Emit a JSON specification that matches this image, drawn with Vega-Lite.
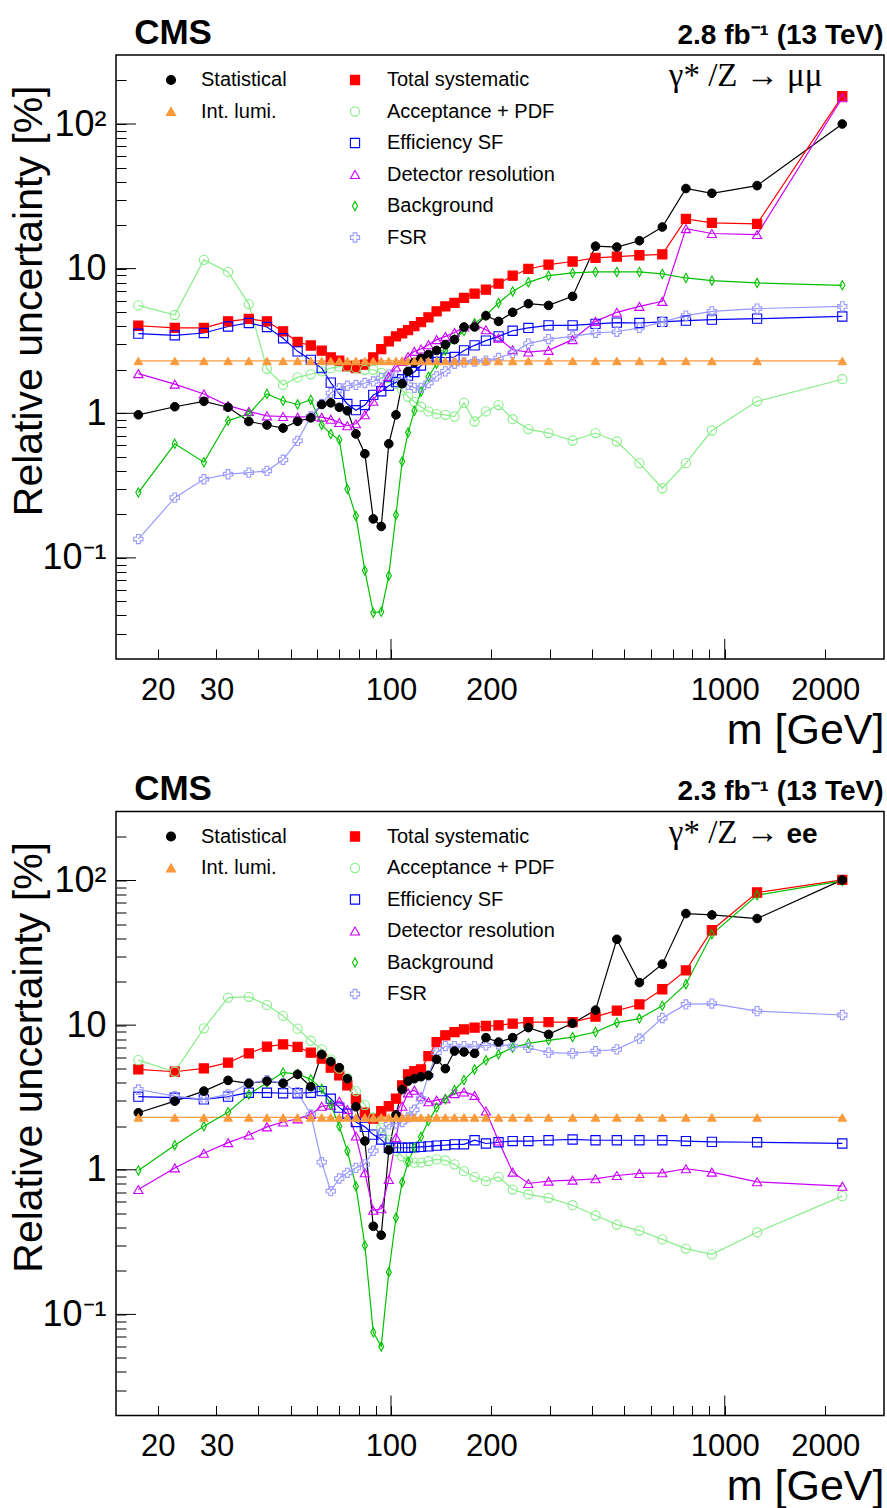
{
  "$schema": "https://vega.github.io/schema/vega-lite/v6.json",
  "background": "white",
  "padding": {"left": 7, "top": 14, "right": 4, "bottom": 0},
  "spacing": 152.5,
  "bounds": "flush",
  "config": {
    "view": {"stroke": "black", "strokeWidth": 1.5},
    "font": "Liberation Sans",
    "axis": {"domain": false, "grid": false, "tickColor": "black", "tickWidth": 1, "labelColor": "black", "titleColor": "black", "labelFont": "Liberation Sans", "titleFont": "Liberation Sans", "titleFontWeight": "normal"},
    "legend": {"labelLimit": 400}
  },
  "datasets": {
    "mumu": [
      {"m":17.5,"stat":0.976,"lumi":2.3,"syst":4.03,"acc":5.57,"eff":3.55,"res":1.88,"bkg":0.283,"fsr":0.135},
      {"m":22.5,"stat":1.11,"lumi":2.3,"syst":3.89,"acc":4.78,"eff":3.46,"res":1.59,"bkg":0.615,"fsr":0.261},
      {"m":27.5,"stat":1.21,"lumi":2.3,"syst":3.89,"acc":11.5,"eff":3.59,"res":1.36,"bkg":0.459,"fsr":0.350},
      {"m":32.5,"stat":1.10,"lumi":2.3,"syst":4.32,"acc":9.49,"eff":3.98,"res":1.13,"bkg":0.887,"fsr":0.379},
      {"m":37.5,"stat":0.877,"lumi":2.3,"syst":4.49,"acc":5.69,"eff":4.21,"res":1.03,"bkg":0.99,"fsr":0.389},
      {"m":42.5,"stat":0.83,"lumi":2.3,"syst":4.32,"acc":2.03,"eff":3.95,"res":0.96,"bkg":1.36,"fsr":0.40},
      {"m":47.5,"stat":0.79,"lumi":2.3,"syst":3.68,"acc":1.57,"eff":3.30,"res":0.95,"bkg":1.22,"fsr":0.477},
      {"m":52.5,"stat":0.88,"lumi":2.3,"syst":3.11,"acc":1.77,"eff":2.68,"res":0.94,"bkg":1.15,"fsr":0.645},
      {"m":57.5,"stat":0.93,"lumi":2.3,"syst":2.94,"acc":1.86,"eff":2.34,"res":0.95,"bkg":1.24,"fsr":0.95},
      {"m":62,"stat":1.15,"lumi":2.3,"syst":2.71,"acc":1.95,"eff":2.05,"res":0.94,"bkg":0.83,"fsr":1.16},
      {"m":66,"stat":1.18,"lumi":2.3,"syst":2.43,"acc":2.05,"eff":1.63,"res":0.91,"bkg":0.72,"fsr":1.38},
      {"m":70,"stat":1.10,"lumi":2.3,"syst":2.31,"acc":2.1,"eff":1.36,"res":0.864,"bkg":0.656,"fsr":1.49},
      {"m":74,"stat":1.04,"lumi":2.3,"syst":2.11,"acc":2.1,"eff":1.16,"res":0.82,"bkg":0.299,"fsr":1.55},
      {"m":78.5,"stat":0.72,"lumi":2.3,"syst":2.05,"acc":2.05,"eff":1.05,"res":0.846,"bkg":0.195,"fsr":1.57},
      {"m":83.5,"stat":0.525,"lumi":2.3,"syst":2.17,"acc":2.0,"eff":1.14,"res":0.976,"bkg":0.0817,"fsr":1.62},
      {"m":88.5,"stat":0.186,"lumi":2.3,"syst":2.43,"acc":2.0,"eff":1.34,"res":1.21,"bkg":0.0418,"fsr":1.66},
      {"m":93.5,"stat":0.165,"lumi":2.3,"syst":2.78,"acc":1.9,"eff":1.42,"res":1.53,"bkg":0.0424,"fsr":1.75},
      {"m":98.5,"stat":0.615,"lumi":2.3,"syst":3.14,"acc":1.75,"eff":1.55,"res":1.80,"bkg":0.0754,"fsr":1.85},
      {"m":103.5,"stat":0.976,"lumi":2.3,"syst":3.40,"acc":1.6,"eff":1.64,"res":2.09,"bkg":0.198,"fsr":1.8},
      {"m":108,"stat":1.6,"lumi":2.3,"syst":3.57,"acc":1.45,"eff":1.72,"res":2.28,"bkg":0.464,"fsr":1.7},
      {"m":112.5,"stat":1.95,"lumi":2.3,"syst":3.76,"acc":1.3,"eff":1.82,"res":2.47,"bkg":0.735,"fsr":1.57},
      {"m":117.5,"stat":2.25,"lumi":2.3,"syst":4.0,"acc":1.2,"eff":1.93,"res":2.68,"bkg":1.04,"fsr":1.5},
      {"m":123,"stat":2.4,"lumi":2.3,"syst":4.27,"acc":1.11,"eff":2.14,"res":2.78,"bkg":1.41,"fsr":1.5},
      {"m":129.5,"stat":2.55,"lumi":2.3,"syst":4.6,"acc":1.03,"eff":2.38,"res":2.98,"bkg":1.79,"fsr":1.62},
      {"m":137,"stat":2.72,"lumi":2.3,"syst":5.07,"acc":0.99,"eff":2.45,"res":3.23,"bkg":2.20,"fsr":1.80},
      {"m":145.5,"stat":2.98,"lumi":2.3,"syst":5.48,"acc":0.976,"eff":2.42,"res":3.40,"bkg":2.72,"fsr":1.95},
      {"m":155,"stat":3.23,"lumi":2.3,"syst":5.79,"acc":0.95,"eff":2.45,"res":3.62,"bkg":3.26,"fsr":2.20},
      {"m":165.5,"stat":3.95,"lumi":2.3,"syst":6.27,"acc":1.18,"eff":2.72,"res":3.95,"bkg":3.7,"fsr":2.25},
      {"m":178,"stat":3.95,"lumi":2.3,"syst":6.71,"acc":0.877,"eff":2.95,"res":4.10,"bkg":4.2,"fsr":2.28},
      {"m":192.5,"stat":4.73,"lumi":2.3,"syst":7.16,"acc":1.03,"eff":3.18,"res":3.78,"bkg":4.75,"fsr":2.31},
      {"m":210,"stat":4.32,"lumi":2.3,"syst":7.88,"acc":1.14,"eff":3.40,"res":3.31,"bkg":5.79,"fsr":2.41},
      {"m":231.5,"stat":4.99,"lumi":2.3,"syst":8.94,"acc":0.91,"eff":3.72,"res":2.75,"bkg":6.96,"fsr":2.61},
      {"m":258,"stat":5.72,"lumi":2.3,"syst":9.95,"acc":0.777,"eff":3.89,"res":2.65,"bkg":8.04,"fsr":3.03},
      {"m":296.5,"stat":5.57,"lumi":2.3,"syst":10.66,"acc":0.73,"eff":4.05,"res":2.72,"bkg":8.94,"fsr":3.26},
      {"m":350,"stat":6.43,"lumi":2.3,"syst":11.2,"acc":0.648,"eff":4.05,"res":3.23,"bkg":9.34,"fsr":3.40},
      {"m":410,"stat":14.3,"lumi":2.3,"syst":11.86,"acc":0.73,"eff":4.15,"res":4.32,"bkg":9.49,"fsr":3.6},
      {"m":475,"stat":14.1,"lumi":2.3,"syst":12.1,"acc":0.638,"eff":4.23,"res":4.99,"bkg":9.49,"fsr":3.66},
      {"m":555,"stat":15.6,"lumi":2.3,"syst":12.37,"acc":0.452,"eff":4.21,"res":5.48,"bkg":9.49,"fsr":3.89},
      {"m":650,"stat":19.4,"lumi":2.3,"syst":12.56,"acc":0.303,"eff":4.28,"res":5.94,"bkg":9.19,"fsr":4.28},
      {"m":765,"stat":35.8,"lumi":2.3,"syst":22.1,"acc":0.452,"eff":4.37,"res":18.9,"bkg":8.62,"fsr":4.73},
      {"m":915,"stat":33.2,"lumi":2.3,"syst":20.7,"acc":0.76,"eff":4.44,"res":17.5,"bkg":8.26,"fsr":5.07},
      {"m":1250,"stat":37.5,"lumi":2.3,"syst":20.4,"acc":1.21,"eff":4.51,"res":17.2,"bkg":7.96,"fsr":5.29},
      {"m":2250,"stat":100,"lumi":2.3,"syst":156,"acc":1.72,"eff":4.67,"res":152,"bkg":7.67,"fsr":5.48}
    ],
    "ee": [
      {"m":17.5,"stat":2.48,"lumi":2.3,"syst":4.94,"acc":5.73,"eff":3.20,"res":0.73,"bkg":0.99,"fsr":3.59},
      {"m":22.5,"stat":2.98,"lumi":2.3,"syst":4.76,"acc":4.76,"eff":3.15,"res":1.03,"bkg":1.48,"fsr":3.23},
      {"m":27.5,"stat":3.50,"lumi":2.3,"syst":5.02,"acc":9.50,"eff":3.07,"res":1.30,"bkg":2.00,"fsr":3.07},
      {"m":32.5,"stat":4.15,"lumi":2.3,"syst":5.50,"acc":15.5,"eff":3.20,"res":1.54,"bkg":2.50,"fsr":3.32},
      {"m":37.5,"stat":3.96,"lumi":2.3,"syst":6.38,"acc":15.7,"eff":3.41,"res":1.74,"bkg":3.32,"fsr":3.96},
      {"m":42.5,"stat":4.10,"lumi":2.3,"syst":7.10,"acc":13.8,"eff":3.41,"res":1.98,"bkg":4.0,"fsr":4.17},
      {"m":47.5,"stat":3.96,"lumi":2.3,"syst":7.36,"acc":11.6,"eff":3.38,"res":2.14,"bkg":4.7,"fsr":3.96},
      {"m":52.5,"stat":4.57,"lumi":2.3,"syst":7.08,"acc":9.46,"eff":3.38,"res":2.25,"bkg":4.6,"fsr":3.44},
      {"m":57.5,"stat":3.75,"lumi":2.3,"syst":6.45,"acc":7.8,"eff":3.41,"res":2.41,"bkg":4.22,"fsr":2.41},
      {"m":62,"stat":6.28,"lumi":2.3,"syst":5.87,"acc":6.8,"eff":3.50,"res":2.75,"bkg":3.63,"fsr":1.13},
      {"m":66,"stat":5.6,"lumi":2.3,"syst":5.08,"acc":5.8,"eff":3.10,"res":2.8,"bkg":2.83,"fsr":0.711},
      {"m":70,"stat":5.08,"lumi":2.3,"syst":4.49,"acc":5.0,"eff":2.69,"res":2.98,"bkg":2.00,"fsr":0.87},
      {"m":74,"stat":4.26,"lumi":2.3,"syst":3.83,"acc":4.3,"eff":2.44,"res":2.61,"bkg":1.35,"fsr":0.953},
      {"m":78.5,"stat":2.73,"lumi":2.3,"syst":3.07,"acc":3.5,"eff":2.14,"res":1.71,"bkg":0.77,"fsr":1.03},
      {"m":83.5,"stat":1.58,"lumi":2.3,"syst":2.48,"acc":2.8,"eff":1.98,"res":0.953,"bkg":0.30,"fsr":1.09},
      {"m":88.5,"stat":0.407,"lumi":2.3,"syst":2.26,"acc":2.3,"eff":1.75,"res":0.525,"bkg":0.0752,"fsr":1.35},
      {"m":93.5,"stat":0.353,"lumi":2.3,"syst":2.54,"acc":1.95,"eff":1.62,"res":0.537,"bkg":0.0601,"fsr":1.80},
      {"m":98.5,"stat":1.37,"lumi":2.3,"syst":2.75,"acc":1.6,"eff":1.42,"res":0.857,"bkg":0.196,"fsr":2.06},
      {"m":103.5,"stat":2.4,"lumi":2.3,"syst":3.10,"acc":1.35,"eff":1.42,"res":1.67,"bkg":0.466,"fsr":2.09},
      {"m":108,"stat":3.59,"lumi":2.3,"syst":3.83,"acc":1.24,"eff":1.42,"res":2.75,"bkg":0.82,"fsr":2.14},
      {"m":112.5,"stat":4.1,"lumi":2.3,"syst":4.57,"acc":1.15,"eff":1.42,"res":3.4,"bkg":1.13,"fsr":2.3},
      {"m":117.5,"stat":4.26,"lumi":2.3,"syst":4.81,"acc":1.12,"eff":1.43,"res":3.55,"bkg":1.42,"fsr":2.6},
      {"m":123,"stat":4.4,"lumi":2.3,"syst":4.94,"acc":1.12,"eff":1.44,"res":3.2,"bkg":1.69,"fsr":3.1},
      {"m":129.5,"stat":4.49,"lumi":2.3,"syst":6.11,"acc":1.15,"eff":1.45,"res":2.95,"bkg":2.17,"fsr":4.5},
      {"m":137,"stat":5.80,"lumi":2.3,"syst":7.64,"acc":1.18,"eff":1.47,"res":3.03,"bkg":2.69,"fsr":6.45},
      {"m":145.5,"stat":5.0,"lumi":2.3,"syst":8.5,"acc":1.16,"eff":1.48,"res":3.10,"bkg":3.07,"fsr":7.17},
      {"m":155,"stat":6.62,"lumi":2.3,"syst":8.96,"acc":1.09,"eff":1.50,"res":3.36,"bkg":3.56,"fsr":7.17},
      {"m":165.5,"stat":6.52,"lumi":2.3,"syst":9.35,"acc":0.978,"eff":1.50,"res":3.45,"bkg":4.17,"fsr":7.17},
      {"m":178,"stat":6.38,"lumi":2.3,"syst":9.61,"acc":0.894,"eff":1.60,"res":3.27,"bkg":4.94,"fsr":7.17},
      {"m":192.5,"stat":8.19,"lumi":2.3,"syst":9.86,"acc":0.834,"eff":1.52,"res":2.55,"bkg":5.71,"fsr":7.25},
      {"m":210,"stat":7.64,"lumi":2.3,"syst":9.97,"acc":0.894,"eff":1.55,"res":1.58,"bkg":6.28,"fsr":7.36},
      {"m":231.5,"stat":8.19,"lumi":2.3,"syst":10.24,"acc":0.73,"eff":1.58,"res":0.963,"bkg":6.99,"fsr":7.17},
      {"m":258,"stat":9.61,"lumi":2.3,"syst":10.5,"acc":0.675,"eff":1.58,"res":0.804,"bkg":7.48,"fsr":6.98},
      {"m":296.5,"stat":8.63,"lumi":2.3,"syst":10.5,"acc":0.64,"eff":1.60,"res":0.834,"bkg":7.85,"fsr":6.45},
      {"m":350,"stat":10.3,"lumi":2.3,"syst":10.5,"acc":0.569,"eff":1.62,"res":0.848,"bkg":8.27,"fsr":6.38},
      {"m":410,"stat":12.7,"lumi":2.3,"syst":11.45,"acc":0.483,"eff":1.60,"res":0.866,"bkg":8.96,"fsr":6.6},
      {"m":475,"stat":39.2,"lumi":2.3,"syst":12.6,"acc":0.418,"eff":1.60,"res":0.913,"bkg":10.4,"fsr":6.8},
      {"m":555,"stat":19.7,"lumi":2.3,"syst":13.9,"acc":0.38,"eff":1.60,"res":0.943,"bkg":11.1,"fsr":8.06},
      {"m":650,"stat":26.4,"lumi":2.3,"syst":17.7,"acc":0.33,"eff":1.60,"res":0.953,"bkg":13.6,"fsr":11.2},
      {"m":765,"stat":59.1,"lumi":2.3,"syst":23.9,"acc":0.285,"eff":1.58,"res":1.016,"bkg":19.2,"fsr":13.9},
      {"m":915,"stat":57.8,"lumi":2.3,"syst":45.3,"acc":0.26,"eff":1.56,"res":0.963,"bkg":42.5,"fsr":14.1},
      {"m":1250,"stat":54.6,"lumi":2.3,"syst":82.6,"acc":0.37,"eff":1.55,"res":0.826,"bkg":79.1,"fsr":12.5},
      {"m":2250,"stat":101,"lumi":2.3,"syst":101,"acc":0.657,"eff":1.52,"res":0.77,"bkg":99.3,"fsr":11.75}
    ]
  },
  "vconcat": [
    {
      "width": 768, "height": 604,
      "layer": [
        {
          "data": {"name": "mumu"},
          "transform": [{"fold": ["stat","lumi","syst","acc","eff","res","bkg","fsr"], "as": ["s","v"]}],
          "mark": {"type": "line", "strokeWidth": 1.2},
          "encoding": {
            "x": {"field": "m", "type": "quantitative", "scale": {"type": "log", "domain": [15, 3000], "nice": false},
              "axis": {"values": [20,30,40,50,60,70,80,90,100,200,300,400,500,600,700,800,900,1000,2000], "format": "d",
                "labelExpr": "indexof([20,30,100,200,1000,2000], datum.value) >= 0 ? datum.label : ''",
                "labelFontSize": 31, "tickSize": -10, "labelPadding": 26, "labelBaseline": "top", "labelOverlap": false, "labelFlush": false,
                "title": "m [GeV]", "titleFontSize": 43, "titleAlign": "right", "titleX": 768, "titleY": 84, "titleBaseline": "alphabetic"}},
            "y": {"field": "v", "type": "quantitative", "scale": {"type": "log", "domain": [0.02, 300], "nice": false},
              "axis": {"values": [0.03,0.04,0.05,0.06,0.07,0.08,0.09,0.1,0.2,0.3,0.4,0.5,0.6,0.7,0.8,0.9,1,2,3,4,5,6,7,8,9,10,20,30,40,50,60,70,80,90,100,200],
                "labelExpr": "datum.value == 100 ? '10²' : datum.value == 10 ? '10' : datum.value == 1 ? '1' : datum.value == 0.1 ? '10⁻¹' : ''",
                "labelFontSize": 36, "tickSize": -10, "labelPadding": 20, "labelBaseline": "middle", "labelOverlap": false, "labelFlush": false,
                "title": "Relative uncertainty [%]", "titleFontSize": 41, "titleAngle": 270, "titleAlign": "right", "titleBaseline": "middle", "titleX": -87, "titleY": 30}},
            "color": {"field": "s", "type": "nominal", "scale": {"domain": ["stat","lumi","syst","acc","eff","res","bkg","fsr"], "range": ["#000000","#fa9a3c","#ff0000","#88ee88","#0000ff","#cc00ff","#00c000","#9999ff"]}, "legend": null}
          }
        },
        {
          "data": {"name": "mumu"},
          "transform": [{"fold": ["stat","lumi","syst","acc","eff","res","bkg","fsr"], "as": ["s","v"]}, {"filter": {"field": "s", "oneOf": ["syst","acc","eff","res","bkg","fsr"]}}],
          "mark": {"type": "point", "opacity": 1, "size": 85, "strokeWidth": 1.1},
          "encoding": {
            "x": {"field": "m", "type": "quantitative"},
            "y": {"field": "v", "type": "quantitative"},
            "shape": {"field": "s", "type": "nominal", "scale": {"domain": ["syst","acc","eff","res","bkg","fsr"], "range": ["square","circle","square","triangle-up","M0,-1L0.55,0L0,1L-0.55,0Z","cross"]},
              "legend": {"title": null, "orient": "none", "legendX": 229, "legendY": 15, "padding": 0, "labelFontSize": 20, "labelFont": "Liberation Sans", "labelColor": "black", "labelLimit": 400, "symbolSize": 85, "symbolStrokeWidth": 1.1, "labelOffset": 22, "rowPadding": 11.5, "labelExpr": "datum.label == 'syst' ? 'Total systematic' : datum.label == 'acc' ? 'Acceptance + PDF' : datum.label == 'eff' ? 'Efficiency SF' : datum.label == 'res' ? 'Detector resolution' : datum.label == 'bkg' ? 'Background' : 'FSR'"}},
            "stroke": {"field": "s", "type": "nominal", "scale": {"domain": ["syst","acc","eff","res","bkg","fsr"], "range": ["#ff0000","#88ee88","#0000ff","#cc00ff","#00c000","#9999ff"]},
              "legend": {"title": null, "orient": "none", "legendX": 229, "legendY": 15, "padding": 0, "labelFontSize": 20, "labelFont": "Liberation Sans", "labelColor": "black", "labelLimit": 400, "symbolSize": 85, "symbolStrokeWidth": 1.1, "labelOffset": 22, "rowPadding": 11.5, "labelExpr": "datum.label == 'syst' ? 'Total systematic' : datum.label == 'acc' ? 'Acceptance + PDF' : datum.label == 'eff' ? 'Efficiency SF' : datum.label == 'res' ? 'Detector resolution' : datum.label == 'bkg' ? 'Background' : 'FSR'"}},
            "fill": {"field": "s", "type": "nominal", "scale": {"domain": ["syst","acc","eff","res","bkg","fsr"], "range": ["#ff0000","transparent","transparent","transparent","transparent","transparent"]},
              "legend": {"title": null, "orient": "none", "legendX": 229, "legendY": 15, "padding": 0, "labelFontSize": 20, "labelFont": "Liberation Sans", "labelColor": "black", "labelLimit": 400, "symbolSize": 85, "symbolStrokeWidth": 1.1, "labelOffset": 22, "rowPadding": 11.5, "labelExpr": "datum.label == 'syst' ? 'Total systematic' : datum.label == 'acc' ? 'Acceptance + PDF' : datum.label == 'eff' ? 'Efficiency SF' : datum.label == 'res' ? 'Detector resolution' : datum.label == 'bkg' ? 'Background' : 'FSR'"}}
          }
        },
        {
          "data": {"name": "mumu"},
          "transform": [{"fold": ["stat","lumi","syst","acc","eff","res","bkg","fsr"], "as": ["s","v"]}, {"filter": {"field": "s", "oneOf": ["stat","lumi"]}}],
          "mark": {"type": "point", "opacity": 1, "size": 75, "strokeWidth": 1},
          "encoding": {
            "x": {"field": "m", "type": "quantitative"},
            "y": {"field": "v", "type": "quantitative"},
            "shape": {"field": "s", "type": "nominal", "scale": {"domain": ["stat","lumi"], "range": ["circle","triangle-up"]},
              "legend": {"title": null, "orient": "none", "legendX": 45, "legendY": 15, "padding": 0, "labelFontSize": 20, "labelFont": "Liberation Sans", "labelColor": "black", "labelLimit": 400, "symbolSize": 75, "labelOffset": 20, "rowPadding": 11.5, "labelExpr": "datum.label == 'stat' ? 'Statistical' : 'Int. lumi.'"}},
            "stroke": {"field": "s", "type": "nominal", "scale": {"domain": ["stat","lumi"], "range": ["#000000","#fa9a3c"]},
              "legend": {"title": null, "orient": "none", "legendX": 45, "legendY": 15, "padding": 0, "labelFontSize": 20, "labelFont": "Liberation Sans", "labelColor": "black", "labelLimit": 400, "symbolSize": 75, "labelOffset": 20, "rowPadding": 11.5, "labelExpr": "datum.label == 'stat' ? 'Statistical' : 'Int. lumi.'"}},
            "fill": {"field": "s", "type": "nominal", "scale": {"domain": ["stat","lumi"], "range": ["#000000","#fa9a3c"]},
              "legend": {"title": null, "orient": "none", "legendX": 45, "legendY": 15, "padding": 0, "labelFontSize": 20, "labelFont": "Liberation Sans", "labelColor": "black", "labelLimit": 400, "symbolSize": 75, "labelOffset": 20, "rowPadding": 11.5, "labelExpr": "datum.label == 'stat' ? 'Statistical' : 'Int. lumi.'"}}
          }
        },
        {
          "data": {"values": [{"m": 100}, {"m": 1000}]},
          "mark": {"type": "rule", "color": "black", "strokeWidth": 1},
          "encoding": {"x": {"field": "m", "type": "quantitative"}, "y": {"datum": 0.02}, "y2": {"datum": 0.0275}}
        },
        {
          "data": {"values": [{"v": 0.1}, {"v": 1}, {"v": 10}, {"v": 100}]},
          "mark": {"type": "rule", "color": "black", "strokeWidth": 1},
          "encoding": {"y": {"field": "v", "type": "quantitative"}, "x": {"datum": 15}, "x2": {"datum": 17.22}}
        },
        {
          "data": {"values": [{}]},
          "mark": {"type": "text", "text": "CMS", "font": "Liberation Sans", "fontSize": 35, "fontWeight": "bold", "align": "left", "baseline": "alphabetic", "color": "black"},
          "encoding": {"x": {"datum": 17.0}, "y": {"datum": 360}}
        },
        {
          "data": {"values": [{}]},
          "mark": {"type": "text", "text": "2.8 fb⁻¹ (13 TeV)", "font": "Liberation Sans", "fontSize": 28, "fontWeight": "bold", "align": "right", "baseline": "alphabetic", "color": "black"},
          "encoding": {"x": {"datum": 2990}, "y": {"datum": 360}}
        },
        {
          "data": {"values": [{}]},
          "mark": {"type": "text", "text": "γ* /Z → μμ", "font": "Liberation Serif", "fontSize": 33, "align": "left", "baseline": "alphabetic", "color": "black"},
          "encoding": {"x": {"datum": 680}, "y": {"datum": 183}}
        }
      ],
      "resolve": {"scale": {"shape": "independent", "stroke": "independent", "fill": "independent"}}
    },
    {
      "width": 768, "height": 604,
      "layer": [
        {
          "data": {"name": "ee"},
          "transform": [{"fold": ["stat","lumi","syst","acc","eff","res","bkg","fsr"], "as": ["s","v"]}],
          "mark": {"type": "line", "strokeWidth": 1.2},
          "encoding": {
            "x": {"field": "m", "type": "quantitative", "scale": {"type": "log", "domain": [15, 3000], "nice": false},
              "axis": {"values": [20,30,40,50,60,70,80,90,100,200,300,400,500,600,700,800,900,1000,2000], "format": "d",
                "labelExpr": "indexof([20,30,100,200,1000,2000], datum.value) >= 0 ? datum.label : ''",
                "labelFontSize": 31, "tickSize": -10, "labelPadding": 26, "labelBaseline": "top", "labelOverlap": false, "labelFlush": false,
                "title": "m [GeV]", "titleFontSize": 43, "titleAlign": "right", "titleX": 768, "titleY": 84, "titleBaseline": "alphabetic"}},
            "y": {"field": "v", "type": "quantitative", "scale": {"type": "log", "domain": [0.02, 300], "nice": false},
              "axis": {"values": [0.03,0.04,0.05,0.06,0.07,0.08,0.09,0.1,0.2,0.3,0.4,0.5,0.6,0.7,0.8,0.9,1,2,3,4,5,6,7,8,9,10,20,30,40,50,60,70,80,90,100,200],
                "labelExpr": "datum.value == 100 ? '10²' : datum.value == 10 ? '10' : datum.value == 1 ? '1' : datum.value == 0.1 ? '10⁻¹' : ''",
                "labelFontSize": 36, "tickSize": -10, "labelPadding": 20, "labelBaseline": "middle", "labelOverlap": false, "labelFlush": false,
                "title": "Relative uncertainty [%]", "titleFontSize": 41, "titleAngle": 270, "titleAlign": "right", "titleBaseline": "middle", "titleX": -87, "titleY": 30}},
            "color": {"field": "s", "type": "nominal", "scale": {"domain": ["stat","lumi","syst","acc","eff","res","bkg","fsr"], "range": ["#000000","#fa9a3c","#ff0000","#88ee88","#0000ff","#cc00ff","#00c000","#9999ff"]}, "legend": null}
          }
        },
        {
          "data": {"name": "ee"},
          "transform": [{"fold": ["stat","lumi","syst","acc","eff","res","bkg","fsr"], "as": ["s","v"]}, {"filter": {"field": "s", "oneOf": ["syst","acc","eff","res","bkg","fsr"]}}],
          "mark": {"type": "point", "opacity": 1, "size": 85, "strokeWidth": 1.1},
          "encoding": {
            "x": {"field": "m", "type": "quantitative"},
            "y": {"field": "v", "type": "quantitative"},
            "shape": {"field": "s", "type": "nominal", "scale": {"domain": ["syst","acc","eff","res","bkg","fsr"], "range": ["square","circle","square","triangle-up","M0,-1L0.55,0L0,1L-0.55,0Z","cross"]},
              "legend": {"title": null, "orient": "none", "legendX": 229, "legendY": 15, "padding": 0, "labelFontSize": 20, "labelFont": "Liberation Sans", "labelColor": "black", "labelLimit": 400, "symbolSize": 85, "symbolStrokeWidth": 1.1, "labelOffset": 22, "rowPadding": 11.5, "labelExpr": "datum.label == 'syst' ? 'Total systematic' : datum.label == 'acc' ? 'Acceptance + PDF' : datum.label == 'eff' ? 'Efficiency SF' : datum.label == 'res' ? 'Detector resolution' : datum.label == 'bkg' ? 'Background' : 'FSR'"}},
            "stroke": {"field": "s", "type": "nominal", "scale": {"domain": ["syst","acc","eff","res","bkg","fsr"], "range": ["#ff0000","#88ee88","#0000ff","#cc00ff","#00c000","#9999ff"]},
              "legend": {"title": null, "orient": "none", "legendX": 229, "legendY": 15, "padding": 0, "labelFontSize": 20, "labelFont": "Liberation Sans", "labelColor": "black", "labelLimit": 400, "symbolSize": 85, "symbolStrokeWidth": 1.1, "labelOffset": 22, "rowPadding": 11.5, "labelExpr": "datum.label == 'syst' ? 'Total systematic' : datum.label == 'acc' ? 'Acceptance + PDF' : datum.label == 'eff' ? 'Efficiency SF' : datum.label == 'res' ? 'Detector resolution' : datum.label == 'bkg' ? 'Background' : 'FSR'"}},
            "fill": {"field": "s", "type": "nominal", "scale": {"domain": ["syst","acc","eff","res","bkg","fsr"], "range": ["#ff0000","transparent","transparent","transparent","transparent","transparent"]},
              "legend": {"title": null, "orient": "none", "legendX": 229, "legendY": 15, "padding": 0, "labelFontSize": 20, "labelFont": "Liberation Sans", "labelColor": "black", "labelLimit": 400, "symbolSize": 85, "symbolStrokeWidth": 1.1, "labelOffset": 22, "rowPadding": 11.5, "labelExpr": "datum.label == 'syst' ? 'Total systematic' : datum.label == 'acc' ? 'Acceptance + PDF' : datum.label == 'eff' ? 'Efficiency SF' : datum.label == 'res' ? 'Detector resolution' : datum.label == 'bkg' ? 'Background' : 'FSR'"}}
          }
        },
        {
          "data": {"name": "ee"},
          "transform": [{"fold": ["stat","lumi","syst","acc","eff","res","bkg","fsr"], "as": ["s","v"]}, {"filter": {"field": "s", "oneOf": ["stat","lumi"]}}],
          "mark": {"type": "point", "opacity": 1, "size": 75, "strokeWidth": 1},
          "encoding": {
            "x": {"field": "m", "type": "quantitative"},
            "y": {"field": "v", "type": "quantitative"},
            "shape": {"field": "s", "type": "nominal", "scale": {"domain": ["stat","lumi"], "range": ["circle","triangle-up"]},
              "legend": {"title": null, "orient": "none", "legendX": 45, "legendY": 15, "padding": 0, "labelFontSize": 20, "labelFont": "Liberation Sans", "labelColor": "black", "labelLimit": 400, "symbolSize": 75, "labelOffset": 20, "rowPadding": 11.5, "labelExpr": "datum.label == 'stat' ? 'Statistical' : 'Int. lumi.'"}},
            "stroke": {"field": "s", "type": "nominal", "scale": {"domain": ["stat","lumi"], "range": ["#000000","#fa9a3c"]},
              "legend": {"title": null, "orient": "none", "legendX": 45, "legendY": 15, "padding": 0, "labelFontSize": 20, "labelFont": "Liberation Sans", "labelColor": "black", "labelLimit": 400, "symbolSize": 75, "labelOffset": 20, "rowPadding": 11.5, "labelExpr": "datum.label == 'stat' ? 'Statistical' : 'Int. lumi.'"}},
            "fill": {"field": "s", "type": "nominal", "scale": {"domain": ["stat","lumi"], "range": ["#000000","#fa9a3c"]},
              "legend": {"title": null, "orient": "none", "legendX": 45, "legendY": 15, "padding": 0, "labelFontSize": 20, "labelFont": "Liberation Sans", "labelColor": "black", "labelLimit": 400, "symbolSize": 75, "labelOffset": 20, "rowPadding": 11.5, "labelExpr": "datum.label == 'stat' ? 'Statistical' : 'Int. lumi.'"}}
          }
        },
        {
          "data": {"values": [{"m": 100}, {"m": 1000}]},
          "mark": {"type": "rule", "color": "black", "strokeWidth": 1},
          "encoding": {"x": {"field": "m", "type": "quantitative"}, "y": {"datum": 0.02}, "y2": {"datum": 0.0275}}
        },
        {
          "data": {"values": [{"v": 0.1}, {"v": 1}, {"v": 10}, {"v": 100}]},
          "mark": {"type": "rule", "color": "black", "strokeWidth": 1},
          "encoding": {"y": {"field": "v", "type": "quantitative"}, "x": {"datum": 15}, "x2": {"datum": 17.22}}
        },
        {
          "data": {"values": [{}]},
          "mark": {"type": "text", "text": "CMS", "font": "Liberation Sans", "fontSize": 35, "fontWeight": "bold", "align": "left", "baseline": "alphabetic", "color": "black"},
          "encoding": {"x": {"datum": 17.0}, "y": {"datum": 360}}
        },
        {
          "data": {"values": [{}]},
          "mark": {"type": "text", "text": "2.3 fb⁻¹ (13 TeV)", "font": "Liberation Sans", "fontSize": 28, "fontWeight": "bold", "align": "right", "baseline": "alphabetic", "color": "black"},
          "encoding": {"x": {"datum": 2990}, "y": {"datum": 360}}
        },
        {
          "data": {"values": [{}]},
          "mark": {"type": "text", "text": "γ* /Z →", "font": "Liberation Serif", "fontSize": 33, "align": "left", "baseline": "alphabetic", "color": "black"},
          "encoding": {"x": {"datum": 680}, "y": {"datum": 183}}
        },
        {
          "data": {"values": [{}]},
          "mark": {"type": "text", "text": "ee", "font": "Liberation Sans", "fontSize": 28, "fontWeight": "bold", "align": "left", "baseline": "alphabetic", "color": "black"},
          "encoding": {"x": {"datum": 1530}, "y": {"datum": 183}}
        }
      ],
      "resolve": {"scale": {"shape": "independent", "stroke": "independent", "fill": "independent"}}
    }
  ]
}
